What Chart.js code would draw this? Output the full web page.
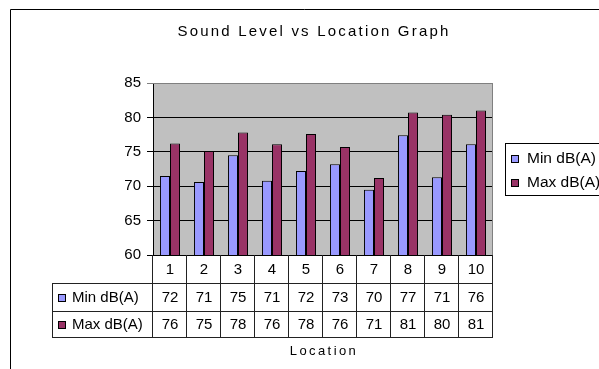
<!DOCTYPE html>
<html>
<head>
<meta charset="utf-8">
<script src="https://cdn.jsdelivr.net/npm/chart.js@4.4.0/dist/chart.umd.min.js"></script>
<style>
  html, body { margin: 0; padding: 0; background: #fff; }
  canvas { display: block; }
</style>
</head>
<body>
<canvas id="sound-chart" width="599" height="369"></canvas>
<script>
  // Measured levels per location (bars); the table shows them rounded
  const locations = ['1', '2', '3', '4', '5', '6', '7', '8', '9', '10'];
  const minLevels = [71.5, 70.6, 74.5, 70.8, 72.2, 73.2, 69.5, 77.4, 71.3, 76.1];
  const maxLevels = [76.2, 75.1, 77.8, 76.1, 77.6, 75.7, 71.2, 80.7, 80.4, 81.0];
  const yTicks = [60, 65, 70, 75, 80, 85];

  const FONT = '"Liberation Sans", Arial, sans-serif';

  // grey plot background
  const plotBackground = {
    id: 'plotBackground',
    beforeDraw(chart) {
      const { ctx, chartArea: a } = chart;
      ctx.save();
      ctx.fillStyle = '#c0c0c0';
      ctx.fillRect(a.left, a.top, a.right - a.left, a.bottom - a.top);
      ctx.restore();
    }
  };

  // title, outer frame, legend box and the data table under the plot
  const extras = {
    id: 'extras',
    afterDraw(chart) {
      const { ctx, chartArea: a } = chart;
      const x = chart.scales.x;
      const sets = chart.data.datasets;
      ctx.save();

      // plot border (top + right)
      ctx.strokeStyle = '#808080';
      ctx.lineWidth = 1;
      ctx.beginPath();
      ctx.moveTo(a.left, a.top + 0.5);
      ctx.lineTo(a.right - 0.5, a.top + 0.5);
      ctx.lineTo(a.right - 0.5, a.bottom);
      ctx.stroke();

      // chart frame
      ctx.strokeStyle = '#000';
      ctx.beginPath();
      ctx.moveTo(10.5, 369);
      ctx.lineTo(10.5, 9.5);
      ctx.lineTo(599, 9.5);
      ctx.stroke();

      // title
      ctx.fillStyle = '#000';
      ctx.textAlign = 'center';
      ctx.textBaseline = 'middle';
      ctx.font = '15px ' + FONT;
      ctx.letterSpacing = '2.2px';
      ctx.fillText('Sound Level vs Location Graph', 314, 32);
      ctx.font = '13px ' + FONT;
      ctx.letterSpacing = '2.4px';
      ctx.fillText('Location', (a.left + a.right) / 2 + 1, 351);
      ctx.letterSpacing = '0px';

      // data table
      const colW = (a.right - a.left) / locations.length;
      const rowTop = [a.bottom, 283, 311];
      const rowBot = 337;
      const labelLeft = 52;
      ctx.strokeStyle = '#222';
      ctx.beginPath();
      // horizontal rules
      ctx.moveTo(a.left, rowTop[1] + 0.5); ctx.lineTo(a.right, rowTop[1] + 0.5);
      ctx.moveTo(labelLeft, rowTop[1] + 0.5); ctx.lineTo(a.left, rowTop[1] + 0.5);
      ctx.moveTo(labelLeft, rowTop[2] + 0.5); ctx.lineTo(a.right, rowTop[2] + 0.5);
      ctx.moveTo(labelLeft, rowBot + 0.5); ctx.lineTo(a.right, rowBot + 0.5);
      // verticals
      for (let i = 0; i <= locations.length; i++) {
        const px = Math.round(a.left + i * colW) - 0.5;
        ctx.moveTo(px, a.bottom); ctx.lineTo(px, rowBot + 1);
      }
      ctx.moveTo(labelLeft + 0.5, rowTop[1]); ctx.lineTo(labelLeft + 0.5, rowBot + 1);
      ctx.stroke();

      ctx.font = '15px ' + FONT;
      ctx.fillStyle = '#000';
      ctx.textAlign = 'center';
      locations.forEach((loc, i) => {
        const cx = x.getPixelForValue(i);
        ctx.fillText(loc, cx, 270);
        ctx.fillText(String(Math.round(minLevels[i])), cx, 298);
        ctx.fillText(String(Math.round(maxLevels[i])), cx, 325);
      });

      // row labels with swatches
      const swatch = (sx, sy, color) => {
        ctx.fillStyle = color;
        ctx.fillRect(sx, sy, 7, 7);
        ctx.strokeStyle = '#000';
        ctx.strokeRect(sx + 0.5, sy + 0.5, 7, 7);
      };
      ctx.textAlign = 'left';
      [298, 325].forEach((ty, k) => {
        swatch(58, ty - 4, sets[k].backgroundColor);
        ctx.fillStyle = '#000';
        ctx.fillText(sets[k].label, 72, ty);
      });

      // legend box
      ctx.strokeStyle = '#000';
      ctx.strokeRect(505.5, 143.5, 110, 52);
      ctx.font = '15.5px ' + FONT;
      [159, 183].forEach((ty, k) => {
        swatch(511, ty - 4, sets[k].backgroundColor);
        ctx.fillStyle = '#000';
        ctx.fillText(sets[k].label, 527, ty);
      });

      ctx.restore();
    }
  };

  const ctx = document.getElementById('sound-chart').getContext('2d');
  const soundChart = new Chart(ctx, {
    type: 'bar',
    data: {
      labels: locations,
      datasets: [{
        label: 'Min dB(A)',
        data: minLevels,
        backgroundColor: '#9999ff',
        borderColor: '#000',
        borderWidth: 1
      }, {
        label: 'Max dB(A)',
        data: maxLevels,
        backgroundColor: '#993366',
        borderColor: '#000',
        borderWidth: 1
      }]
    },
    options: {
      responsive: false,
      animation: false,
      layout: {
        padding: { left: 10, top: 83, right: 106, bottom: 114 }
      },
      datasets: {
        bar: { categoryPercentage: 0.59, barPercentage: 1.0 }
      },
      plugins: {
        legend: { display: false },
        title: { display: false },
        tooltip: { enabled: false }
      },
      scales: {
        x: { display: false },
        y: {
          min: yTicks[0],
          max: yTicks[yTicks.length - 1],
          afterBuildTicks: s => { s.ticks = yTicks.map(v => ({ value: v })); },
          afterFit: s => { s.width = 143; },
          border: { display: true, color: '#000', width: 1 },
          grid: {
            color: c => (c.tick && c.tick.value === 85 ? '#808080' : '#000'),
            lineWidth: 1,
            tickLength: 6,
            drawTicks: true
          },
          ticks: {
            color: '#000',
            padding: 6,
            font: { family: FONT, size: 15 }
          }
        }
      }
    },
    plugins: [plotBackground, extras]
  });
</script>
</body>
</html>
